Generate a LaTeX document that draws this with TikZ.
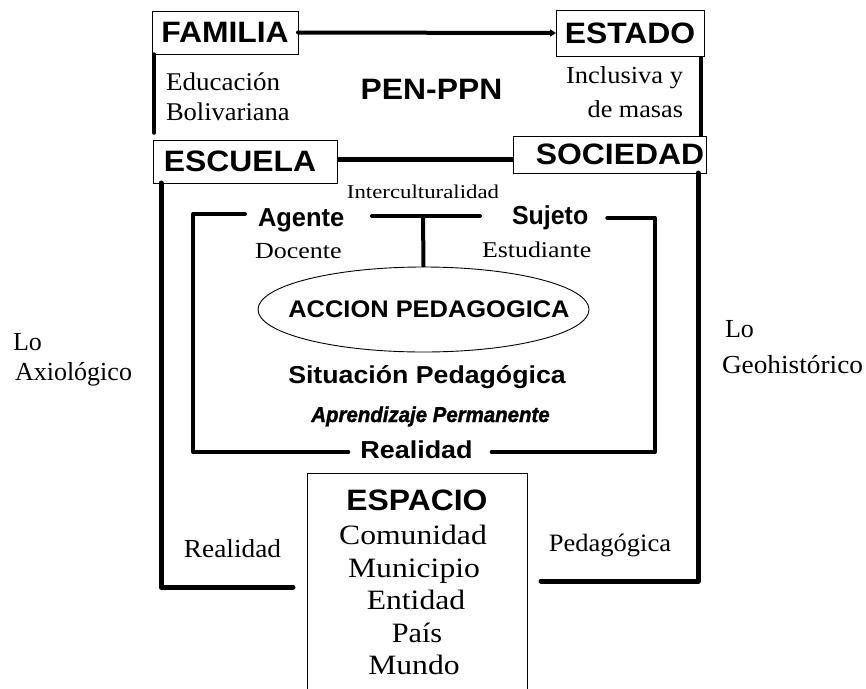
\documentclass[tikz,border=0pt]{standalone}
\usepackage{fontspec}
\setmainfont{Liberation Serif}
\setsansfont{Liberation Sans}
\newfontfamily\heavysans[FakeBold=1.6]{Liberation Sans}
\usetikzlibrary{arrows.meta,calc,shapes.geometric}
\newcommand{\hsc}[2]{\scalebox{#1}[1]{#2}}
\newcommand{\fsz}[1]{\fontsize{#1}{#1}\selectfont}
\begin{document}
\begin{tikzpicture}[x=1pt,y=-1pt,
  every node/.style={inner sep=0pt, outer sep=0pt},
  boxnode/.style={draw, line width=1pt, font=\sffamily\bfseries\fsz{29.5}},
  sansb/.style={font=\sffamily\bfseries\fsz{#1}},
  serif/.style={font=\rmfamily\fsz{#1}},
  bigline/.style={line width=5pt, line cap=round, line join=round},
  innerline/.style={line width=4pt, line cap=round, line join=round},
  midline/.style={line width=#1, line cap=round}
]
\clip (0,0) rectangle (866,688);
\fill[white] (0,0) rectangle (866,688);

% boxes
\node[boxnode, minimum width=146, minimum height=43] (familia) at (225,32.5) {\hsc{1.08}{FAMILIA}};
\node[boxnode, minimum width=148, minimum height=46] (estado) at (630,33) {\hsc{1.08}{ESTADO}};
\node[boxnode, minimum width=184, minimum height=43] (escuela) at (245,161.5) {\hsc{1.08}{ESCUELA}\hspace*{10pt}};
\node[boxnode, minimum width=193, minimum height=37] (sociedad) at (609.5,154.5) {\hspace*{21pt}\hsc{1.08}{SOCIEDAD}};

% top texts
\node[sansb=29.5, anchor=base] (pen) at (431.5,99) {\hsc{1.08}{PEN-PPN}};
\node[serif=25.5, anchor=base west] (educ) at (166,90) {\hsc{1.06}{Educación}};
\node[serif=25.5, anchor=base west] (boliv) at (166,120) {\hsc{1.04}{Bolivariana}};
\node[serif=24.5, anchor=base east] (incl) at (683,83) {\hsc{1.08}{Inclusiva y}};
\node[serif=24.5, anchor=base east] (masas) at (683,117) {\hsc{1.07}{de masas}};

% connectors between boxes
\draw[midline=4pt, -{Triangle[length=6pt,width=7pt]}] (familia.east) -- (estado.west);
\coordinate (fl) at (154,133);
\draw[midline=3.5pt] (familia.south west -| fl) -- (fl);
\coordinate (er) at (701,0);
\draw[midline=4.5pt, line cap=butt] (estado.south -| er) -- (sociedad.north -| er);
\coordinate (es) at (0,159);
\draw[midline=5pt, line cap=butt] (escuela.east |- es) -- (sociedad.west |- es);

% middle
\node[serif=19.5, anchor=base] (inter) at (423,198) {\hsc{1.17}{Interculturalidad}};
\node[sansb=26, anchor=base west] (agente) at (258,226) {\hsc{0.98}{Agente}};
\node[sansb=26, anchor=base west] (sujeto) at (512,224) {\hsc{0.96}{Sujeto}};
\node[serif=23, anchor=base west] (docente) at (255,258) {\hsc{1.13}{Docente}};
\node[serif=22.5, anchor=base west] (estud) at (482,257) {\hsc{1.15}{Estudiante}};

\node[draw, ellipse, line width=0.9pt, minimum width=331, minimum height=85] (ell) at (423.5,309.5) {};
\node[sansb=24, anchor=base] (accion) at (429,317) {\hsc{1.06}{ACCION PEDAGOGICA}};
\node[sansb=24.5, anchor=base] (situ) at (427,383) {\hsc{1.09}{Situación Pedagógica}};
\node[font=\heavysans\bfseries\itshape\fsz{21.5}, anchor=base] (aprend) at (430.5,422) {\hsc{0.95}{Aprendizaje Permanente}};
\node[sansb=24.5, anchor=base] (realb) at (416.5,458) {\hsc{1.1}{Realidad}};

% T bar
\coordinate (tbl) at (372,216);
\coordinate (tbr) at (480,216);
\coordinate (tmid) at (423,216);
\draw[innerline] (tbl) -- (tbr);
\draw[innerline, line cap=butt] (tmid) -- (ell.north);

% inner brackets
\coordinate (ilx) at (193,0);
\coordinate (irx) at (655,0);
\draw[innerline] ($(agente.base west)+(-13,-12)$) -| (ilx |- 0,452) -- ($(realb.base west)+(-12,-6)$);
\draw[innerline] ($(sujeto.base east)+(19,-6)$) -| (irx |- 0,452) -- ($(realb.base east)+(19,-6)$);

% outer lines
\coordinate (bl) at (293,587);
\coordinate (br) at (541,581);
\draw[bigline] ([xshift=8pt]escuela.south west) |- (bl);
\draw[bigline] ([xshift=-8pt]sociedad.south east) |- (br);

% side texts
\node[serif=26, anchor=base west] (lo1) at (13,350) {Lo};
\node[serif=26, anchor=base west] (axio) at (15,380) {Axiológico};
\node[serif=26, anchor=base west] (lo2) at (725,337) {Lo};
\node[serif=26, anchor=base west] (geo) at (722,373) {\hsc{1.05}{Geohistórico}};
\node[serif=26, anchor=base] (reals) at (232.5,557) {\hsc{1.05}{Realidad}};
\node[serif=25, anchor=base] (pedag) at (610,551) {\hsc{1.06}{Pedagógica}};

% espacio
\node[draw, line width=1pt, minimum width=220, minimum height=260, anchor=north] (espbox) at (417,473) {};
\node[sansb=29.5, anchor=base] (espacio) at (417,510) {\hsc{1.08}{ESPACIO}};
\node[serif=28, anchor=base] (comun) at (413,544) {\hsc{1.13}{Comunidad}};
\node[serif=28, anchor=base] (munic) at (414,577) {\hsc{1.13}{Municipio}};
\node[serif=28, anchor=base] (entid) at (416,609) {\hsc{1.13}{Entidad}};
\node[serif=28, anchor=base] (pais) at (417,642) {\hsc{1.08}{País}};
\node[serif=28, anchor=base] (mundo) at (414,674) {\hsc{1.13}{Mundo}};
\end{tikzpicture}
\end{document}
